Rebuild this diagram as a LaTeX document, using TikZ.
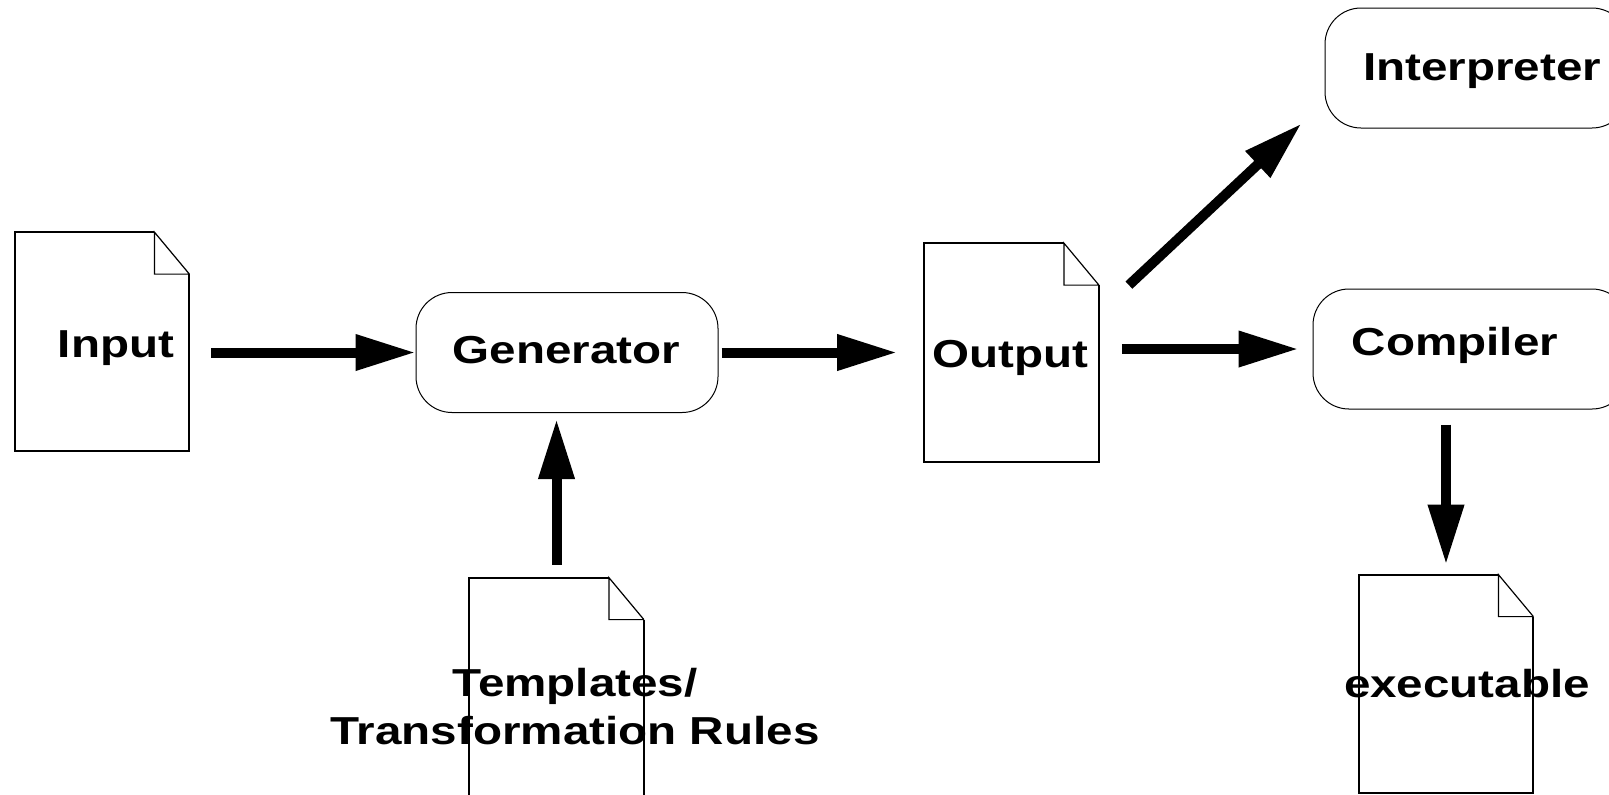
\documentclass[tikz,border=0pt]{standalone}
\usepackage{fontspec}
\setmainfont{Liberation Sans}
\usepackage{graphicx}
\usetikzlibrary{arrows.meta}

\newcommand{\wide}[1]{\scalebox{1.22}[1]{#1}}
\newcommand{\drawdoc}[1]{%
  \draw[docline] ([xshift=-17.5pt]#1.north east) -- (#1.north west) -- (#1.south west) -- (#1.south east) -- ([yshift=-21pt]#1.north east);
  \draw[foldline] ([yshift=-21pt]#1.north east) -- ([xshift=-17.5pt]#1.north east) |- ([yshift=-21pt]#1.north east);}

\tikzset{
  docnode/.style={minimum width=87pt, minimum height=109pt, inner sep=0pt},
  docline/.style={line width=1pt},
  foldline/.style={line width=0.6pt},
  procbox/.style={draw, line width=0.5pt, rounded corners=18pt, minimum height=60pt, inner sep=0pt},
  lbl/.style={font=\fontsize{19.5}{24}\selectfont\bfseries, inner sep=0pt, anchor=base},
  bigarrow/.style={line width=5pt, -{Triangle[length=30pt,width=17pt]}}
}

\begin{document}
\begin{tikzpicture}[x=0.5pt, y=-0.5pt]
\useasboundingbox (0,0) rectangle (1609,794);
\clip (0,0) rectangle (1609,794);

% Documents
\node[docnode] (inputdoc) at (102,341.5) {};
\node[docnode] (outputdoc) at (1011.5,352.5) {};
\node[docnode] (templdoc) at (556.5,687) {};
\node[docnode] (execdoc) at (1446,684) {};
\drawdoc{inputdoc}
\drawdoc{outputdoc}
\drawdoc{templdoc}
\drawdoc{execdoc}

% Processors
\node[procbox, minimum width=151pt] (generator) at (567,352.5) {};
\node[procbox, minimum width=151.5pt] (interp) at (1476.5,68) {};
\node[procbox, minimum width=157.5pt] (compiler) at (1470.5,349) {};

% Labels
\node[lbl] (inputtxt) at (116,357) {\wide{Input}};
\node[lbl] (gentxt) at (566.5,363) {\wide{Generator}};
\node[lbl] (outputtxt) at (1010,367) {\wide{Output}};
\node[lbl] (interptxt) at (1482,80) {\wide{Interpreter}};
\node[lbl] (comptxt) at (1455,355) {\wide{Compiler}};
\node[lbl] (exectxt) at (1467,697) {\wide{executable}};
\node[lbl, align=center, anchor=center] (templtxt) at (575,707) {\wide{Templates/}\\\wide{Transformation Rules}};

% Flow
\draw[bigarrow, shorten <=11pt] (inputdoc.east |- generator.west) -- (generator.west);
\draw[bigarrow, shorten <=1.5pt, shorten >=13.5pt] (generator.east) -- (outputdoc.west |- generator.east);
\draw[bigarrow, shorten <=11.5pt, shorten >=7pt] (outputdoc.east |- compiler.west) -- (compiler.west);
\draw[bigarrow] ([shift={(30,42)}]outputdoc.north east) -- ([shift={(-23,-5)}]interp.south west);
\draw[bigarrow, shorten <=6.5pt, shorten >=3pt] (templdoc.north) -- (templdoc.north |- generator.south);
\draw[bigarrow, shorten <=7.5pt, shorten >=5pt] (execdoc.north |- compiler.south) -- (execdoc.north);
\end{tikzpicture}
\end{document}
